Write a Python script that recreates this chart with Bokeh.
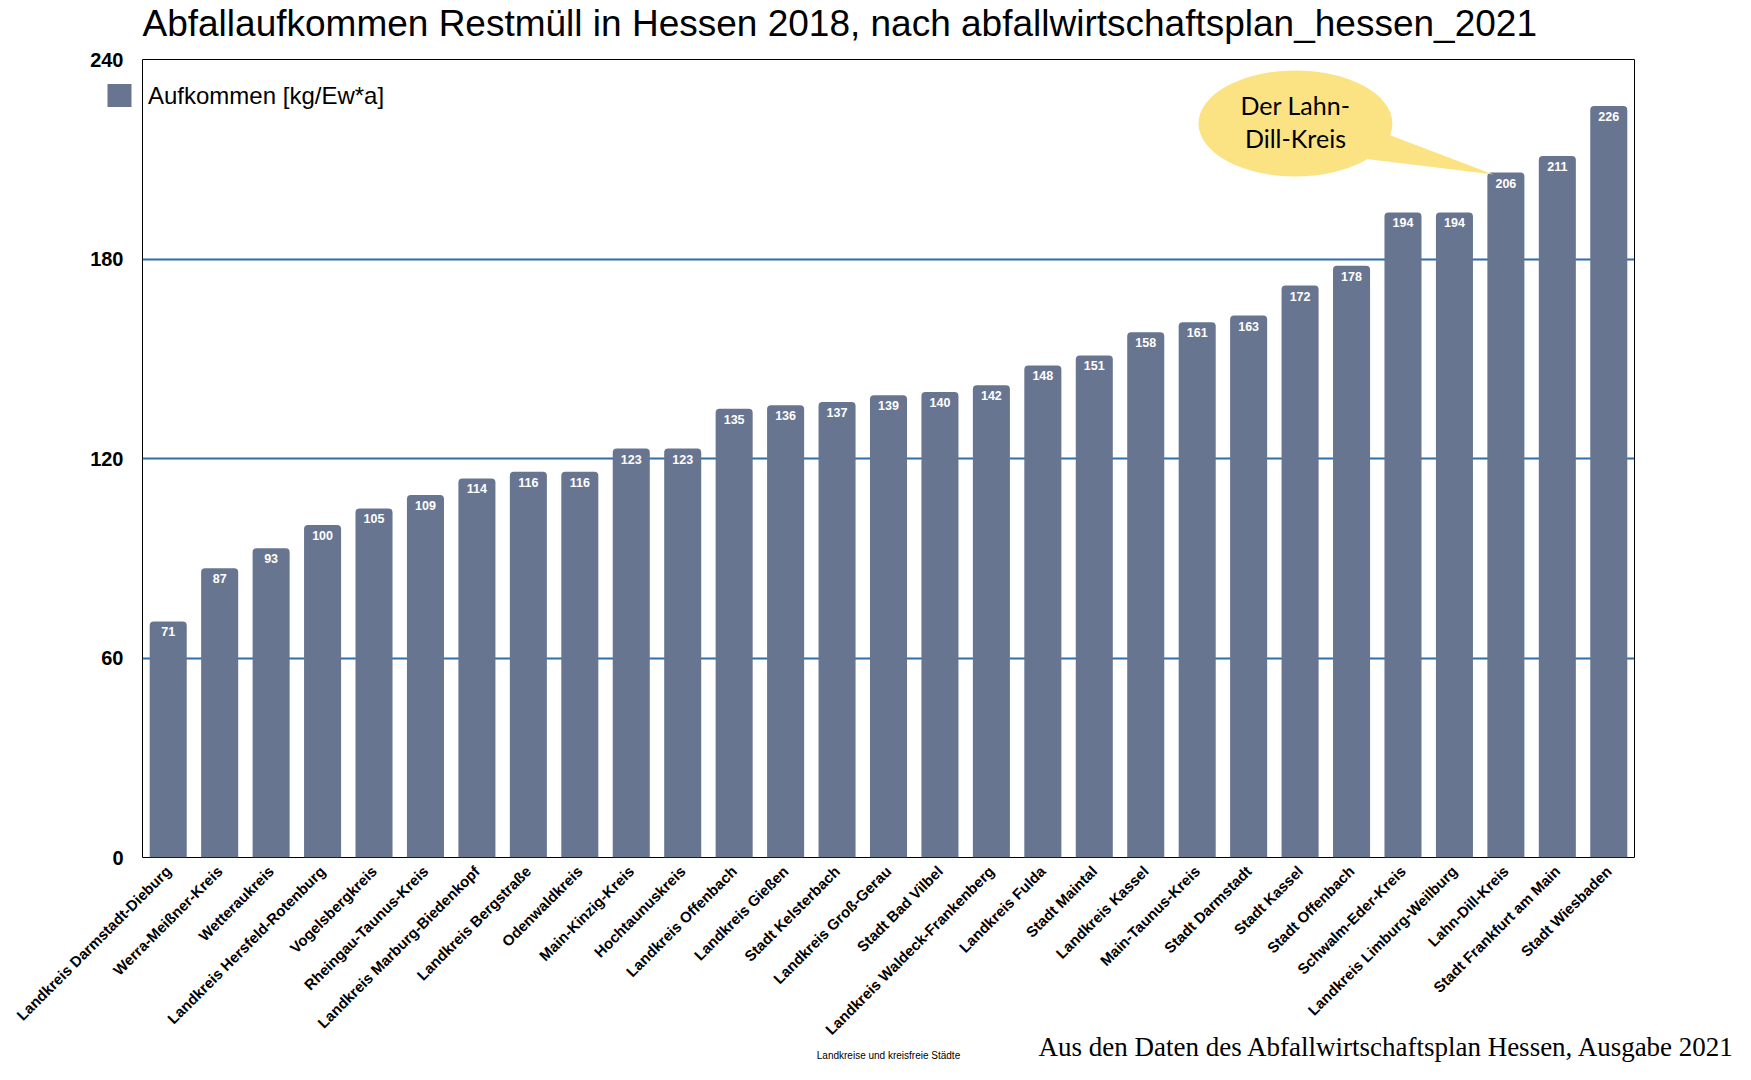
import math
from bokeh.plotting import figure
from bokeh.models import (ColumnDataSource, FactorRange, Range1d, FixedTicker,
                          LabelSet, Label, Legend, LegendItem, Title, LinearAxis)
from bokeh.embed import file_html
from bokeh.resources import INLINE
from bokeh.core.properties import value

# ---------------- data ----------------
regions = [
    "Landkreis Darmstadt-Dieburg", "Werra-Meißner-Kreis", "Wetteraukreis",
    "Landkreis Hersfeld-Rotenburg", "Vogelsbergkreis", "Rheingau-Taunus-Kreis",
    "Landkreis Marburg-Biedenkopf", "Landkreis Bergstraße", "Odenwaldkreis",
    "Main-Kinzig-Kreis", "Hochtaunuskreis", "Landkreis Offenbach",
    "Landkreis Gießen", "Stadt Kelsterbach", "Landkreis Groß-Gerau",
    "Stadt Bad Vilbel", "Landkreis Waldeck-Frankenberg", "Landkreis Fulda",
    "Stadt Maintal", "Landkreis Kassel", "Main-Taunus-Kreis", "Stadt Darmstadt",
    "Stadt Kassel", "Stadt Offenbach", "Schwalm-Eder-Kreis",
    "Landkreis Limburg-Weilburg", "Lahn-Dill-Kreis", "Stadt Frankfurt am Main",
    "Stadt Wiesbaden",
]
amounts = [71, 87, 93, 100, 105, 109, 114, 116, 116, 123, 123, 135, 136, 137,
           139, 140, 142, 148, 151, 158, 161, 163, 172, 178, 194, 194, 206, 211, 226]
y_ticks = [0, 60, 120, 180, 240]
grid_ticks = [60, 120, 180]

title_text = "Abfallaufkommen Restmüll in Hessen 2018, nach abfallwirtschaftsplan_hessen_2021"
series_name = "Aufkommen [kg/Ew*a]"
x_title = "Landkreise und kreisfreie Städte"
footer_text = "Aus den Daten des Abfallwirtschaftsplan Hessen, Ausgabe 2021"
callout_target = "Lahn-Dill-Kreis"
callout_lines = ["Der Lahn-", "Dill-Kreis"]

BAR = "#687590"
GRID = "#2E6DAE"
BUBBLE = "#FBE383"
SANS = "Liberation Sans"

src = ColumnDataSource(dict(region=regions, amount=amounts,
                            label=[str(v) for v in amounts]))

p = figure(width=1735, height=1064,
           x_range=FactorRange(factors=regions, range_padding=0),
           y_range=Range1d(0, 240),
           output_backend="svg", toolbar_location=None,
           min_border_left=142, min_border_right=101,
           min_border_top=59, min_border_bottom=207)

p.title.text = title_text
p.title.text_font = SANS
p.title.text_font_size = "37px"
p.title.text_font_style = "normal"
p.title.align = "left"
p.title.vertical_align = "top"
p.title.standoff = 3
p.title.text_color = "black"
# small blank spacer between the frame and the title
p.add_layout(Title(text=" ", text_font_size="9px", standoff=0), "above")

p.outline_line_color = "black"
p.outline_line_width = 1
p.outline_line_alpha = 1

bars = p.vbar(x="region", top="amount", width=0.72, source=src,
              fill_color=BAR, line_color=None, border_radius=(4, 4, 0, 0))

labels = LabelSet(x="region", y="amount", text="label", source=src,
                  y_offset=-10.5, text_align="center", text_baseline="middle",
                  text_color="white", text_font=value(SANS),
                  text_font_size="12.5px", text_font_style="bold")
p.add_layout(labels)

# ---------------- y axis ----------------
yax = p.yaxis[0]
yax.ticker = FixedTicker(ticks=y_ticks)
yax.axis_line_color = None
yax.major_tick_line_color = None
yax.minor_tick_line_color = None
yax.major_tick_out = 0
yax.major_tick_in = 0
yax.major_label_text_font = SANS
yax.major_label_text_font_size = "20px"
yax.major_label_text_font_style = "bold"
yax.major_label_text_color = "black"

# legend swatch, drawn just left of the frame (outside the clipped plot area)
swatch_value = 229.3
swatch_axis = LinearAxis(ticker=FixedTicker(ticks=[swatch_value]),
                         major_label_overrides={swatch_value: ""},
                         major_label_text_font_size="0px",
                         major_label_standoff=0,
                         axis_line_color=None, minor_tick_line_color=None,
                         major_tick_line_color=BAR, major_tick_line_width=23,
                         major_tick_line_cap="butt",
                         major_tick_out=35, major_tick_in=-11)
p.left = [swatch_axis] + list(p.left)
yax.major_label_standoff = -16

# ---------------- x axis ----------------
p.xaxis.axis_line_color = None
p.xaxis.major_tick_line_color = None
p.xaxis.minor_tick_line_color = None
p.xaxis.major_tick_out = 0
p.xaxis.major_label_standoff = 11
p.xaxis.major_label_orientation = math.pi / 4
p.xaxis.major_label_text_font = SANS
p.xaxis.major_label_text_font_size = "15px"
p.xaxis.major_label_text_font_style = "bold"
p.xaxis.major_label_text_color = "black"
p.xaxis.axis_label = x_title
p.xaxis.axis_label_text_font = SANS
p.xaxis.axis_label_text_font_size = "10px"
p.xaxis.axis_label_text_font_style = "normal"
p.xaxis.axis_label_text_color = "black"
p.xaxis.axis_label_standoff = 3

p.xgrid.visible = False
p.ygrid.ticker = FixedTicker(ticks=grid_ticks)
p.ygrid.grid_line_color = GRID
p.ygrid.grid_line_width = 2

# legend
legend = Legend(items=[LegendItem(label=series_name, renderers=[bars])],
                location=(-35, 747), padding=0, margin=0, spacing=0,
                glyph_width=24, glyph_height=23, label_height=23,
                label_standoff=17, label_text_font=SANS,
                label_text_font_size="24px", label_text_baseline="middle",
                label_text_color="black",
                background_fill_alpha=0, border_line_color=None)
p.add_layout(legend)

# footer note (pulled up beside the x title)
p.add_layout(Title(text=footer_text, align="left", offset=896,
                   vertical_align="top", standoff=-63,
                   text_font="Liberation Serif", text_font_size="27px",
                   text_font_style="normal", text_color="black"), "below")

# callout bubble pointing at the target bar
ti = regions.index(callout_target)
tv = amounts[ti]
tip_x, tip_y = ti + 0.26, tv - 0.6
cx, cy = tip_x - 3.85, tv + 14.75
p.patch([cx + 1.75, tip_x, cx + 1.30], [cy - 3.0, tip_y, cy - 10.5],
        fill_color=BUBBLE, line_color=None)
p.ellipse(x=[cx], y=[cy], width=3.77, height=31.9,
          fill_color=BUBBLE, line_color=None)
for k, line in enumerate(callout_lines):
    p.add_layout(Label(x=cx, y=cy + 5.5 - 10.0 * k, text=line,
                       text_align="center", text_baseline="middle",
                       text_font="Lato", text_font_size="25px",
                       text_color="black"))

open("out.html", "w").write(file_html(p, INLINE))
